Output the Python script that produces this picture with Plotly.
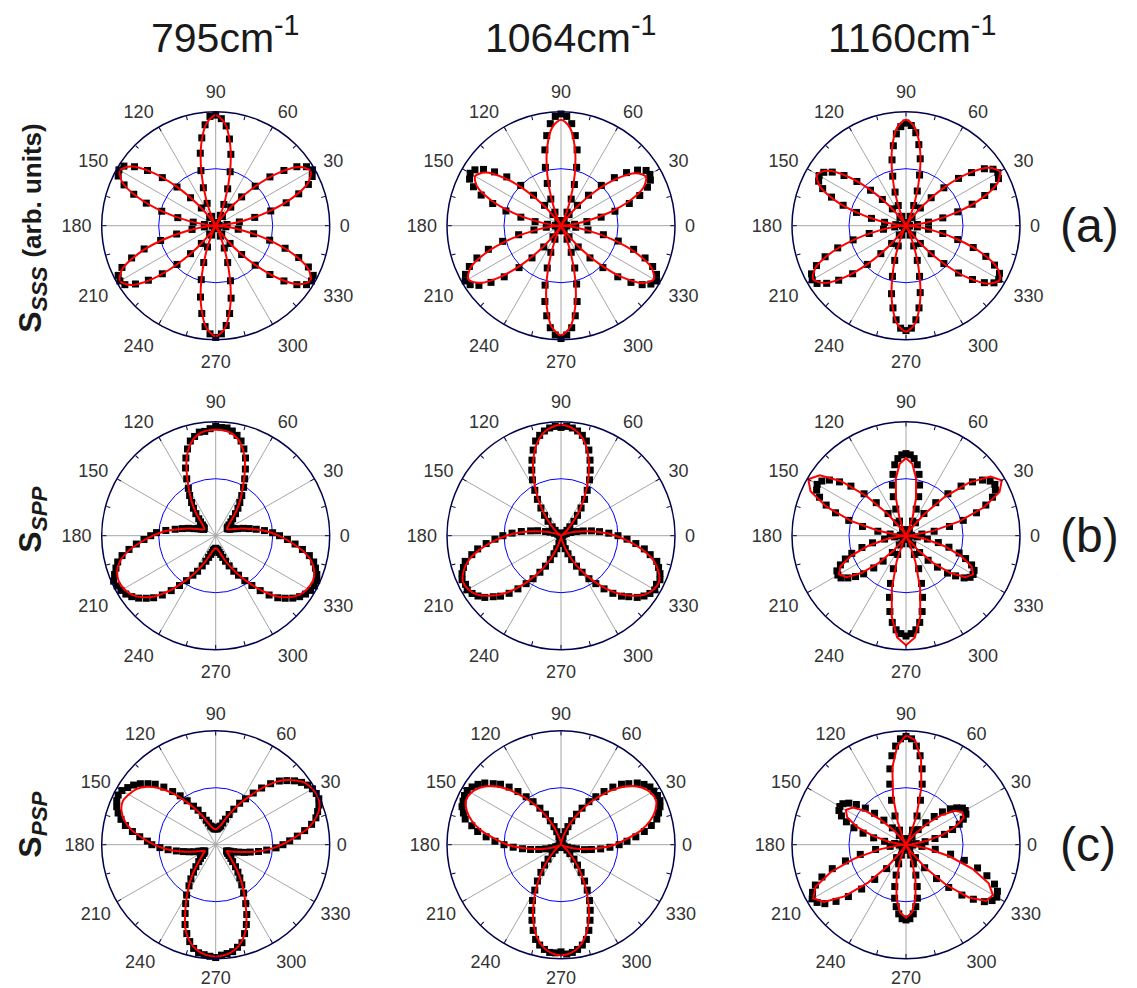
import plotly.graph_objects as go

# ---------------- angles ----------------
fit_angles = list(range(0, 361, 5))      # fitted curve sampled every 5 deg
data_angles = list(range(0, 360, 3))     # measured points every 3 deg
angle_ticks = list(range(0, 360, 30))
minor_ticks = list(range(0, 360, 15))

col_titles = ["795cm<sup>-1</sup>", "1064cm<sup>-1</sup>", "1160cm<sup>-1</sup>"]
row_tags = ["(a)", "(b)", "(c)"]
row_labels = ["<b>S<sub><i>SSS</i></sub> <span style='font-size:26px'>(arb. units)</span></b>",
              "<b>S<sub><i>SPP</i></sub></b>",
              "<b>S<sub><i>PSP</i></sub></b>"]

# ---------------- row (a): SSS ----------------
sss_795_fit = [
    0, .064, .24, .48, .72, .896, .96, .896, .72, .48, .24, .064,
    0, .065, .243, .485, .728, .905, .97, .905, .728, .485, .243, .065,
    0, .065, .243, .485, .728, .905, .97, .905, .728, .485, .243, .065,
    0, .065, .243, .485, .728, .905, .97, .905, .728, .485, .243, .065,
    0, .065, .243, .485, .728, .905, .97, .905, .728, .485, .243, .065,
    0, .064, .24, .48, .72, .896, .96, .896, .72, .48, .24, .064,
    0]
sss_795_data = [
    0.0, 0.03, 0.1, 0.21, 0.35, 0.5, 0.65, 0.78, 0.89, 0.95, 0.98, 0.95, 0.88, 0.77, 0.64, 0.49, 0.34, 0.21, 0.1, 0.03,
    0.01, 0.03, 0.1, 0.2, 0.34, 0.49, 0.64, 0.77, 0.88, 0.94, 0.97, 0.96, 0.89, 0.78, 0.65, 0.5, 0.35, 0.21, 0.09, 0.02,
    0.01, 0.02, 0.09, 0.2, 0.33, 0.48, 0.63, 0.77, 0.88, 0.96, 0.98, 0.96, 0.88, 0.77, 0.64, 0.49, 0.34, 0.2, 0.1, 0.03,
    0.01, 0.03, 0.1, 0.21, 0.35, 0.5, 0.66, 0.79, 0.9, 0.96, 0.97, 0.95, 0.87, 0.76, 0.63, 0.48, 0.33, 0.2, 0.09, 0.02,
    0.01, 0.02, 0.09, 0.2, 0.34, 0.49, 0.64, 0.78, 0.89, 0.95, 0.98, 0.95, 0.88, 0.78, 0.65, 0.5, 0.34, 0.21, 0.1, 0.03,
    0.01, 0.03, 0.09, 0.2, 0.34, 0.49, 0.64, 0.77, 0.88, 0.95, 0.97, 0.96, 0.89, 0.78, 0.64, 0.49, 0.34, 0.2, 0.09, 0.02]

sss_1064_fit = [
    0, .058, .215, .43, .645, .802, .86, .802, .645, .43, .215, .058,
    0, .062, .233, .465, .698, .868, .93, .868, .698, .465, .233, .062,
    0, .058, .218, .435, .653, .812, .87, .812, .653, .435, .218, .058,
    0, .063, .235, .47, .705, .877, .94, .877, .705, .47, .235, .063,
    0, .064, .24, .48, .72, .896, .96, .896, .72, .48, .24, .064,
    0, .063, .235, .47, .705, .877, .94, .877, .705, .47, .235, .063,
    0]
sss_1064_data = [
    0.02, 0.05, 0.12, 0.23, 0.36, 0.49, 0.63, 0.74, 0.83, 0.88, 0.9, 0.89, 0.83, 0.74, 0.63, 0.5, 0.36, 0.23, 0.12, 0.05,
    0.02, 0.05, 0.13, 0.25, 0.38, 0.53, 0.68, 0.8, 0.9, 0.96, 0.98, 0.96, 0.9, 0.8, 0.68, 0.53, 0.39, 0.25, 0.13, 0.05,
    0.02, 0.05, 0.12, 0.23, 0.36, 0.5, 0.64, 0.75, 0.84, 0.9, 0.92, 0.9, 0.84, 0.75, 0.63, 0.5, 0.36, 0.23, 0.12, 0.05,
    0.02, 0.05, 0.13, 0.24, 0.38, 0.53, 0.67, 0.79, 0.88, 0.94, 0.97, 0.95, 0.89, 0.79, 0.67, 0.52, 0.38, 0.24, 0.12, 0.05,
    0.02, 0.05, 0.13, 0.25, 0.39, 0.54, 0.68, 0.8, 0.9, 0.96, 0.99, 0.96, 0.9, 0.8, 0.68, 0.53, 0.39, 0.25, 0.13, 0.05,
    0.02, 0.05, 0.12, 0.24, 0.38, 0.52, 0.67, 0.79, 0.88, 0.94, 0.97, 0.94, 0.88, 0.79, 0.67, 0.52, 0.38, 0.24, 0.13, 0.05]

sss_1160_fit = [
    0, .064, .238, .475, .713, .886, .95, .886, .713, .475, .238, .064,
    0, .062, .233, .465, .698, .868, .93, .868, .698, .465, .233, .062,
    0, .06, .225, .45, .675, .84, .9, .84, .675, .45, .225, .06,
    0, .063, .235, .47, .705, .877, .94, .877, .705, .47, .235, .063,
    0, .062, .233, .465, .698, .868, .93, .868, .698, .465, .233, .062,
    0, .064, .238, .475, .713, .886, .95, .886, .713, .475, .238, .064,
    0]
sss_1160_data = [
    0.01, 0.03, 0.1, 0.2, 0.33, 0.47, 0.61, 0.74, 0.84, 0.91, 0.93, 0.91, 0.85, 0.74, 0.62, 0.47, 0.33, 0.2, 0.09, 0.03,
    0.01, 0.03, 0.09, 0.19, 0.32, 0.46, 0.6, 0.72, 0.82, 0.88, 0.9, 0.87, 0.81, 0.71, 0.59, 0.45, 0.31, 0.19, 0.09, 0.02,
    0.01, 0.03, 0.09, 0.19, 0.31, 0.44, 0.58, 0.7, 0.8, 0.86, 0.88, 0.86, 0.8, 0.7, 0.58, 0.45, 0.31, 0.19, 0.09, 0.03,
    0.01, 0.03, 0.1, 0.2, 0.33, 0.48, 0.63, 0.76, 0.86, 0.93, 0.95, 0.93, 0.86, 0.76, 0.63, 0.48, 0.33, 0.2, 0.1, 0.03,
    0.01, 0.03, 0.09, 0.19, 0.32, 0.46, 0.61, 0.73, 0.83, 0.9, 0.92, 0.9, 0.83, 0.73, 0.6, 0.46, 0.32, 0.19, 0.09, 0.02,
    0.01, 0.03, 0.1, 0.2, 0.33, 0.47, 0.62, 0.75, 0.85, 0.92, 0.94, 0.92, 0.85, 0.75, 0.62, 0.47, 0.33, 0.2, 0.1, 0.03]

# ---------------- row (b): SPP ----------------
spp_795_fit = [
    .55, .45, .33, .24, .17, .13, .115, .125, .15, .2, .28, .37,
    .47, .6, .74, .84, .9, .925, .93, .925, .9, .84, .74, .6,
    .47, .37, .28, .2, .15, .125, .115, .13, .17, .24, .33, .45,
    .55, .66, .78, .87, .92, .94, .93, .9, .84, .75, .63, .5,
    .39, .3, .22, .16, .13, .115, .11, .115, .13, .16, .22, .3,
    .39, .5, .63, .75, .84, .9, .93, .94, .92, .87, .78, .66,
    .55]
spp_795_data = [
    .56, .5, .43, .36, .3, .25, .2, .17, .14, .13, .12, .12, .13, .15, .18, .21, .26, .31, .36, .42,
    .49, .56, .64, .73, .8, .86, .9, .93, .95, .95, .96, .94, .92, .92, .89, .86, .8, .73, .65, .56,
    .48, .42, .36, .31, .26, .21, .18, .15, .13, .12, .12, .12, .14, .17, .2, .25, .3, .36, .44, .52,
    .57, .63, .7, .77, .84, .89, .92, .95, .98, .97, .96, .94, .91, .87, .82, .77, .7, .62, .54, .47,
    .4, .35, .29, .24, .2, .17, .15, .13, .12, .12, .11, .12, .12, .13, .15, .17, .2, .24, .29, .35,
    .4, .47, .54, .62, .7, .77, .82, .87, .91, .94, .96, .97, .97, .95, .92, .89, .84, .77, .7, .63]

spp_1064_fit = [
    .48, .35, .23, .13, .06, .02, 0, .012, .045, .1, .19, .3,
    .43, .57, .71, .83, .91, .955, .97, .955, .91, .83, .71, .57,
    .43, .3, .19, .1, .045, .012, 0, .02, .06, .13, .23, .35,
    .48, .6, .73, .84, .91, .95, .94, .9, .82, .72, .6, .47,
    .35, .24, .14, .07, .03, .008, 0, .008, .03, .07, .14, .24,
    .35, .47, .6, .72, .82, .9, .94, .95, .91, .84, .73, .6,
    .48]
spp_1064_data = [
    .5, .42, .34, .27, .2, .14, .09, .05, .03, .01, 0, .01, .02, .04, .07, .11, .17, .23, .3, .38,
    .46, .55, .63, .71, .79, .86, .9, .93, .95, .96, .95, .96, .95, .93, .9, .86, .79, .71, .63, .55,
    .46, .38, .3, .23, .17, .11, .07, .04, .02, .01, 0, .01, .03, .06, .1, .14, .21, .27, .35, .43,
    .51, .58, .66, .74, .8, .87, .9, .93, .95, .94, .95, .93, .9, .86, .8, .75, .68, .6, .52, .45,
    .37, .3, .23, .17, .12, .07, .05, .02, .01, 0, 0, 0, .01, .02, .05, .07, .12, .17, .23, .3,
    .37, .45, .52, .6, .68, .75, .8, .86, .9, .93, .95, .94, .95, .93, .9, .87, .8, .74, .66, .58]

spp_1160_fit = [
    0, .065, .243, .485, .728, .905, .97, .905, .728, .485, .243, .065,
    0, .046, .17, .34, .51, .634, .68, .634, .51, .34, .17, .046,
    0, .066, .248, .495, .743, .924, .99, .924, .743, .495, .248, .066,
    0, .046, .17, .34, .51, .634, .68, .634, .51, .34, .17, .046,
    0, .064, .24, .48, .72, .896, .96, .896, .72, .48, .24, .064,
    0, .046, .17, .34, .51, .634, .68, .634, .51, .34, .17, .046,
    0]
spp_1160_data = [
    0.02, 0.05, 0.14, 0.25, 0.39, 0.52, 0.65, 0.75, 0.83, 0.88, 0.9, 0.88, 0.83, 0.75, 0.65, 0.52, 0.39, 0.25, 0.14, 0.05,
    0.02, 0.06, 0.14, 0.25, 0.36, 0.46, 0.55, 0.63, 0.68, 0.71, 0.72, 0.71, 0.68, 0.63, 0.55, 0.46, 0.36, 0.25, 0.14, 0.06,
    0.02, 0.05, 0.14, 0.25, 0.39, 0.52, 0.65, 0.75, 0.83, 0.88, 0.9, 0.88, 0.83, 0.75, 0.65, 0.52, 0.39, 0.25, 0.14, 0.05,
    0.01, 0.04, 0.1, 0.19, 0.3, 0.4, 0.5, 0.57, 0.63, 0.68, 0.69, 0.68, 0.63, 0.57, 0.5, 0.4, 0.3, 0.19, 0.1, 0.04,
    0.03, 0.08, 0.18, 0.31, 0.44, 0.56, 0.68, 0.77, 0.83, 0.86, 0.88, 0.86, 0.83, 0.77, 0.68, 0.56, 0.44, 0.31, 0.18, 0.08,
    0.01, 0.04, 0.1, 0.19, 0.29, 0.39, 0.49, 0.56, 0.63, 0.67, 0.68, 0.67, 0.63, 0.56, 0.49, 0.39, 0.29, 0.19, 0.1, 0.04]

# ---------------- row (c): PSP ----------------
psp_795_fit = [
    .58, .69, .82, .91, .97, .99, .98, .95, .88, .79, .66, .52,
    .41, .31, .23, .18, .155, .14, .135, .14, .15, .17, .21, .28,
    .37, .47, .59, .7, .79, .85, .88, .9, .88, .83, .75, .64,
    .54, .44, .33, .24, .17, .13, .11, .13, .16, .21, .29, .39,
    .5, .63, .78, .88, .94, .97, .98, .97, .94, .88, .78, .63,
    .5, .39, .29, .21, .16, .13, .11, .14, .18, .25, .35, .47,
    .58]
psp_795_data = [
    .59, .65, .72, .79, .86, .91, .94, .97, .99, .99, .98, .96, .93, .89, .84, .79, .72, .64, .56, .48,
    .42, .35, .29, .24, .2, .17, .16, .15, .14, .14, .14, .14, .14, .15, .16, .17, .2, .23, .28, .34,
    .39, .46, .53, .6, .68, .75, .8, .85, .89, .92, .95, .96, .95, .93, .9, .86, .81, .74, .67, .6,
    .56, .49, .42, .35, .29, .24, .2, .16, .14, .12, .11, .12, .13, .15, .18, .21, .26, .31, .37, .43,
    .51, .58, .66, .75, .82, .88, .93, .96, .97, .98, .99, .97, .96, .95, .92, .89, .82, .75, .67, .58,
    .49, .42, .36, .31, .26, .21, .18, .15, .13, .12, .11, .12, .14, .17, .21, .26, .31, .38, .45, .53]

psp_1064_fit = [
    .47, .58, .71, .81, .88, .92, .91, .87, .8, .7, .58, .46,
    .34, .23, .14, .07, .03, .01, 0, .01, .03, .07, .14, .23,
    .34, .46, .58, .7, .8, .87, .91, .92, .88, .81, .71, .58,
    .47, .34, .22, .13, .06, .02, 0, .012, .045, .1, .19, .3,
    .43, .57, .71, .83, .91, .955, .97, .955, .91, .83, .71, .57,
    .43, .3, .19, .1, .045, .012, 0, .02, .06, .13, .22, .34,
    .47]
psp_1064_data = [
    .51, .58, .66, .74, .81, .87, .9, .93, .95, .95, .94, .93, .9, .86, .8, .75, .68, .6, .52, .45,
    .37, .3, .23, .17, .12, .07, .05, .02, .01, 0, 0, 0, .01, .02, .05, .07, .12, .17, .23, .3,
    .37, .45, .52, .6, .68, .75, .8, .86, .9, .93, .95, .95, .94, .93, .9, .87, .8, .74, .66, .58,
    .5, .42, .34, .27, .2, .14, .09, .05, .03, .01, 0, .01, .02, .04, .07, .11, .17, .23, .3, .38,
    .46, .55, .63, .71, .79, .86, .9, .93, .95, .95, .94, .96, .95, .93, .9, .86, .79, .71, .63, .55,
    .46, .38, .3, .23, .17, .11, .07, .04, .02, .01, 0, .01, .03, .06, .1, .14, .21, .27, .35, .43]

psp_1160_fit = [
    0, .05, .17, .33, .46, .56, .57, .52, .4, .26, .12, .03,
    0, .075, .27, .52, .76, .92, .96, .87, .69, .44, .21, .05,
    0, .041, .153, .305, .458, .569, .61, .569, .458, .305, .153, .041,
    0, .063, .235, .47, .705, .877, .94, .877, .705, .47, .235, .063,
    0, .043, .16, .32, .48, .597, .64, .597, .48, .32, .16, .043,
    0, .08, .26, .5, .72, .86, .88, .8, .62, .4, .19, .05,
    0]
psp_1160_data = [
    0.01, 0.04, 0.09, 0.17, 0.26, 0.35, 0.43, 0.5, 0.55, 0.59, 0.6, 0.59, 0.55, 0.5, 0.43, 0.35, 0.26, 0.17, 0.09, 0.04,
    0.02, 0.06, 0.14, 0.27, 0.41, 0.55, 0.68, 0.79, 0.87, 0.93, 0.95, 0.93, 0.87, 0.79, 0.68, 0.55, 0.41, 0.27, 0.14, 0.06,
    0.01, 0.04, 0.1, 0.19, 0.29, 0.39, 0.48, 0.56, 0.62, 0.66, 0.67, 0.66, 0.62, 0.56, 0.48, 0.39, 0.29, 0.19, 0.1, 0.04,
    0.02, 0.06, 0.14, 0.27, 0.41, 0.55, 0.68, 0.79, 0.87, 0.92, 0.95, 0.93, 0.88, 0.79, 0.68, 0.55, 0.41, 0.27, 0.14, 0.06,
    0.01, 0.04, 0.1, 0.18, 0.28, 0.38, 0.48, 0.55, 0.61, 0.65, 0.66, 0.65, 0.61, 0.55, 0.48, 0.38, 0.28, 0.18, 0.1, 0.04,
    0.02, 0.06, 0.14, 0.26, 0.4, 0.53, 0.66, 0.76, 0.85, 0.9, 0.92, 0.9, 0.85, 0.76, 0.66, 0.53, 0.4, 0.26, 0.14, 0.06]

panels = [
    [(sss_795_data, sss_795_fit, "spline"), (sss_1064_data, sss_1064_fit, "spline"), (sss_1160_data, sss_1160_fit, "spline")],
    [(spp_795_data, spp_795_fit, "spline"), (spp_1064_data, spp_1064_fit, "spline"), (spp_1160_data, spp_1160_fit, "linear")],
    [(psp_795_data, psp_795_fit, "spline"), (psp_1064_data, psp_1064_fit, "spline"), (psp_1160_data, psp_1160_fit, "linear")],
]

# ---------------- layout geometry (pixels, page offset of 8px compensated) ----------------
W, H = 1137, 988
OFF = 8
col_cx = [215.7 - OFF, 561.0 - OFF, 906.0 - OFF]
row_cy = [225.7 - OFF, 535.7 - OFF, 844.7 - OFF]
row_ticklen = [6, 6, 3]
R = 114.0

NAVY = "#00004d"
GRID = "#a6a6a6"
TXT = "#333333"

fig = go.Figure()
layout_polars = {}
for ri in range(3):
    for ci in range(3):
        idx = ri * 3 + ci
        k_base = 2 * idx + 1
        k_top = 2 * idx + 2
        base = "polar" if k_base == 1 else f"polar{k_base}"
        top = f"polar{k_top}"
        cx, cy = col_cx[ci], row_cy[ri]
        dom = dict(x=[(cx - R) / W, (cx + R) / W], y=[1 - (cy + R) / H, 1 - (cy - R) / H])
        layout_polars[base] = dict(
            domain=dom, bgcolor="white", hole=0,
            radialaxis=dict(range=[0, 1], tickvals=[0.5], showticklabels=False, ticks="",
                            showline=False, gridcolor="#0000ff", gridwidth=1),
            angularaxis=dict(tickmode="array", tickvals=angle_ticks,
                             ticktext=[str(a) for a in angle_ticks],
                             showgrid=True, gridcolor=GRID, gridwidth=1, showline=False,
                             ticks="outside", ticklen=row_ticklen[ri], tickcolor="rgba(0,0,0,0)",
                             direction="counterclockwise", rotation=0,
                             tickfont=dict(family="Liberation Sans, Arial, sans-serif", size=18, color=TXT)),
        )
        layout_polars[top] = dict(
            domain=dom, bgcolor="rgba(0,0,0,0)", hole=0,
            radialaxis=dict(visible=False, range=[0, 1]),
            angularaxis=dict(tickmode="array", tickvals=minor_ticks, ticks="inside", ticklen=4,
                             tickwidth=1, tickcolor=NAVY, showticklabels=False, showgrid=False,
                             showline=True, linecolor=NAVY, linewidth=1.5,
                             direction="counterclockwise", rotation=0),
        )
        data, fit, shape = panels[ri][ci]
        fig.add_trace(go.Scatterpolar(r=data, theta=data_angles, mode="markers", subplot=base,
                                      marker=dict(symbol="square", size=7, color="black"),
                                      showlegend=False, hoverinfo="skip"))
        fig.add_trace(go.Scatterpolar(r=fit, theta=fit_angles, mode="lines", subplot=base,
                                      line=dict(color="#ff0000", width=2, shape=shape, smoothing=0.8),
                                      showlegend=False, hoverinfo="skip"))
        fig.add_trace(go.Scatterpolar(r=[0], theta=[0], mode="markers", subplot=top,
                                      marker=dict(size=1, opacity=0), showlegend=False, hoverinfo="skip"))

annotations = []
title_x = [225 - OFF, 570 - OFF, 912 - OFF]
for ci, t in enumerate(col_titles):
    annotations.append(dict(text=t, x=title_x[ci] / W, y=1 - (35 - OFF) / H, xref="paper", yref="paper",
                            xanchor="center", yanchor="middle", showarrow=False,
                            font=dict(family="Liberation Sans, Arial, sans-serif", size=41, color="#1a1a1a")))
for ri, t in enumerate(row_tags):
    annotations.append(dict(text=t, x=(1058 - OFF) / W, y=1 - row_cy[ri] / H, xref="paper", yref="paper",
                            xanchor="left", yanchor="middle", showarrow=False,
                            font=dict(family="Liberation Sans, Arial, sans-serif", size=48, color="#1a1a1a")))
label_y = [228 - OFF, 520 - OFF, 825 - OFF]
for ri, t in enumerate(row_labels):
    annotations.append(dict(text=t, x=0.001, y=1 - label_y[ri] / H, xref="paper", yref="paper",
                            xanchor="left", yanchor="middle", showarrow=False, textangle=-90,
                            font=dict(family="Liberation Sans, Arial, sans-serif", size=32, color="#1a1a1a")))

fig.update_layout(width=W, height=H, margin=dict(l=0, r=0, t=0, b=0),
                  paper_bgcolor="white", plot_bgcolor="white", showlegend=False,
                  annotations=annotations, **layout_polars)

fig.write_html("out.html")
